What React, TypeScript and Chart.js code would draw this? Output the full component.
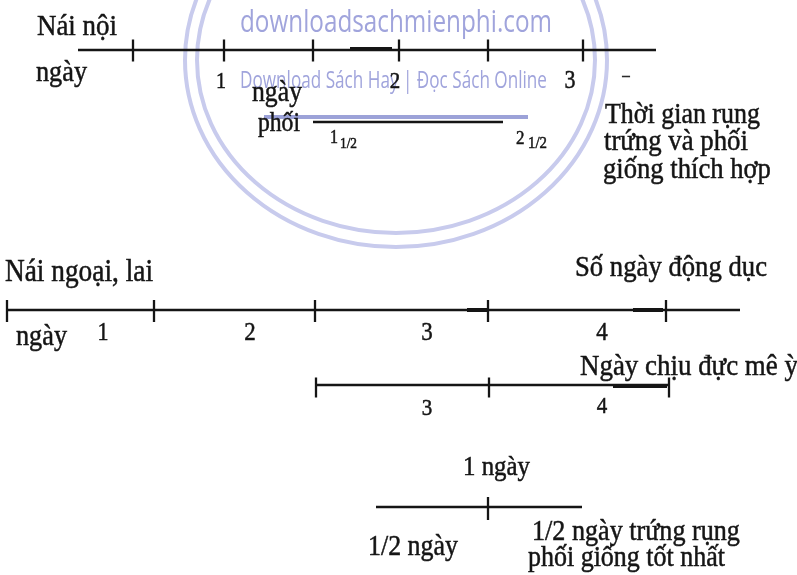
import React, { useEffect, useRef } from "react";
import { Chart, registerables } from "chart.js";

Chart.register(...registerables);

const W = 797;
const H = 575;

// ---- timeline data (diagram units along x / y) ----
const lineRows = ["noi", "phoi", "ngoai", "chiu", "tot"];
const lineY = [50, 122, 310, 385, 507];
const lineStart = [78, 313, 6, 316, 376];
const lineEnd = [656, 503, 740, 669, 582];

const ticksNoi = [133, 224, 313, 399, 488, 583];
const ticksNgoai = [7, 154, 315, 488, 666];
const ticksChiu = [316, 489, 669];
const ticksTot = [488];
const tickCenters = [50.5, 311, 387.5, 508.5];
const tickHalf = [11, 11, 10, 11.5];

// thicker scan strokes on the lines: [y, x0, x1]
const heavySegments: [number, number, number][] = [
  [49, 350, 392],
  [310, 467, 487],
  [310, 633, 663],
  [386, 613, 667],
];

// ---- text: [text, x, baselineY, fitWidth(0 = use size), size, align] ----
type Lbl = [string, number, number, number, number, CanvasTextAlign];
const labelsTop: Lbl[] = [
  ["Nái nội", 37, 35, 80, 22, "left"],
  ["ngày", 36, 81, 51, 22, "left"],
  ["1", 221, 88, 0, 20, "center"],
  ["2", 395, 88, 0, 21, "center"],
  ["3", 570, 88, 0, 22, "center"],
  ["–", 626, 80, 0, 15, "center"],
  ["ngày", 252, 101, 50, 22, "left"],
  ["phối", 258, 131, 42, 22, "left"],
  ["1", 330, 143, 0, 16, "left"],
  ["1/2", 340, 148, 17, 9, "left"],
  ["2", 516, 144, 0, 17, "left"],
  ["1/2", 528, 148, 19, 9, "left"],
  ["Thời gian rụng", 605, 123, 155, 24, "left"],
  ["trứng và phối", 604, 150, 144, 24, "left"],
  ["giống thích hợp", 603, 178, 168, 24, "left"],
];
const labelsMid: Lbl[] = [
  ["Nái ngoại, lai", 5, 281, 148, 22, "left"],
  ["Số ngày động dục", 575, 276, 192, 24, "left"],
  ["ngày", 16, 345, 51, 22, "left"],
  ["1", 103, 340, 0, 22, "center"],
  ["2", 250, 340, 0, 23, "center"],
  ["3", 427, 340, 0, 23, "center"],
  ["4", 602, 340, 0, 23, "center"],
  ["Ngày chịu đực mê ỳ", 580, 375, 218, 24, "left"],
  ["3", 427, 415, 0, 21, "center"],
  ["4", 602, 413, 0, 21, "center"],
];
const labelsBottom: Lbl[] = [
  ["1 ngày", 463, 475, 67, 22, "left"],
  ["1/2 ngày", 368, 555, 90, 22, "left"],
  ["1/2 ngày trứng rụng", 532, 540, 208, 22, "left"],
  ["phối giống tốt nhất", 528, 566, 197, 22, "left"],
];

// watermark: [text, x, baseline, maxWidth, size]
const watermarkTexts: [string, number, number, number, number][] = [
  ["downloadsachmienphi.com", 240, 32, 312, 30],
  ["Download Sách Hay | Đọc Sách Online", 240, 88, 307, 22],
];
// watermark rings: [cx, cy, rx, ry]
const watermarkRings: [number, number, number, number][] = [
  [396, 60, 211, 187],
  [396, 60, 199, 173],
];
const watermarkBar: [number, number, number] = [117, 264, 528];

const SERIF = '"Liberation Serif", "Times New Roman", serif';
const SANS = '"Open Sans", "Noto Sans", sans-serif';
const INK = "#151515";
const MARK = "#a0a4dc";
const RING = "#c8cbed";
const TEXT_VSCALE = 1.12;

const diagramPlugin = {
  id: "diagramText",
  beforeDatasetsDraw(chart: any) {
    const { ctx } = chart;
    const xs = chart.scales.x;
    const ys = chart.scales.y;
    ctx.save();
    ctx.strokeStyle = RING;
    ctx.lineWidth = 4;
    watermarkRings.forEach(([cx, cy, rx, ry]) => {
      const px = xs.getPixelForValue(cx);
      const py = ys.getPixelForValue(cy);
      const prx = Math.abs(xs.getPixelForValue(cx + rx) - px);
      const pry = Math.abs(ys.getPixelForValue(cy + ry) - py);
      ctx.beginPath();
      ctx.ellipse(px, py, prx, pry, 0, 0, Math.PI * 2);
      ctx.stroke();
    });
    ctx.strokeStyle = "#9ca2d8";
    ctx.lineWidth = 4;
    ctx.beginPath();
    ctx.moveTo(xs.getPixelForValue(watermarkBar[1]), ys.getPixelForValue(watermarkBar[0]));
    ctx.lineTo(xs.getPixelForValue(watermarkBar[2]), ys.getPixelForValue(watermarkBar[0]));
    ctx.stroke();
    ctx.fillStyle = MARK;
    ctx.textAlign = "left";
    ctx.textBaseline = "alphabetic";
    watermarkTexts.forEach(([t, x, y, mw, size]) => {
      ctx.font = `${size}px ${SANS}`;
      const w = ctx.measureText(t).width;
      const px = xs.getPixelForValue(x);
      const py = ys.getPixelForValue(y);
      const target = Math.abs(xs.getPixelForValue(x + mw) - px);
      ctx.save();
      ctx.translate(px, py);
      ctx.scale(target / w, 1.05);
      ctx.fillText(t, 0, 0);
      ctx.restore();
    });
    ctx.restore();
  },
  afterDatasetsDraw(chart: any) {
    const { ctx } = chart;
    const xs = chart.scales.x;
    const ys = chart.scales.y;
    ctx.save();
    ctx.fillStyle = INK;
    ctx.strokeStyle = INK;
    ctx.lineWidth = 0.45;
    ctx.textBaseline = "alphabetic";
    [...labelsTop, ...labelsMid, ...labelsBottom].forEach(([t, x, y, fw, size, align]) => {
      const px = xs.getPixelForValue(x);
      const py = ys.getPixelForValue(y);
      let s = size;
      if (fw > 0) {
        ctx.font = `100px ${SERIF}`;
        const target = Math.abs(xs.getPixelForValue(x + fw) - px);
        s = (100 * target) / ctx.measureText(t).width;
      }
      ctx.font = `${s.toFixed(2)}px ${SERIF}`;
      ctx.textAlign = align;
      ctx.save();
      ctx.translate(px, py);
      ctx.scale(1, TEXT_VSCALE);
      ctx.fillText(t, 0, 0);
      ctx.strokeText(t, 0, 0);
      ctx.restore();
    });
    ctx.restore();
  },
};

export default function App() {
  const ref = useRef<HTMLCanvasElement | null>(null);

  useEffect(() => {
    if (!ref.current) return;
    const datasets: any[] = [];
    lineRows.forEach((_, i) => {
      datasets.push({
        data: [
          { x: lineStart[i], y: lineY[i] },
          { x: lineEnd[i], y: lineY[i] },
        ],
        showLine: true,
        borderColor: INK,
        borderWidth: 2.5,
        pointRadius: 0,
        clip: false,
      });
    });
    heavySegments.forEach(([y, x0, x1]) => {
      datasets.push({
        data: [
          { x: x0, y },
          { x: x1, y },
        ],
        showLine: true,
        borderColor: INK,
        borderWidth: 4,
        pointRadius: 0,
        clip: false,
      });
    });
    [ticksNoi, ticksNgoai, ticksChiu, ticksTot].forEach((ticks, i) => {
      datasets.push({
        data: ticks.map((x) => ({ x, y: tickCenters[i] })),
        showLine: false,
        pointStyle: "line",
        rotation: 90,
        pointRadius: tickHalf[i],
        pointBorderWidth: 2.3,
        pointBorderColor: INK,
        borderColor: INK,
        clip: false,
      });
    });

    const chart = new Chart(ref.current, {
      type: "scatter",
      data: { datasets },
      options: {
        animation: false,
        responsive: false,
        events: [],
        layout: { padding: 0, autoPadding: false },
        plugins: { legend: { display: false }, tooltip: { enabled: false } },
        scales: {
          x: { type: "linear", min: 0, max: W, display: false },
          y: { type: "linear", min: 0, max: H, reverse: true, display: false },
        },
      },
      plugins: [diagramPlugin],
    });
    return () => chart.destroy();
  }, []);

  return (
    <div style={{ position: "absolute", left: 0, top: 0, width: W, height: H, background: "#fff" }}>
      <canvas ref={ref} width={W} height={H} style={{ width: W, height: H, display: "block" }} />
    </div>
  );
}
